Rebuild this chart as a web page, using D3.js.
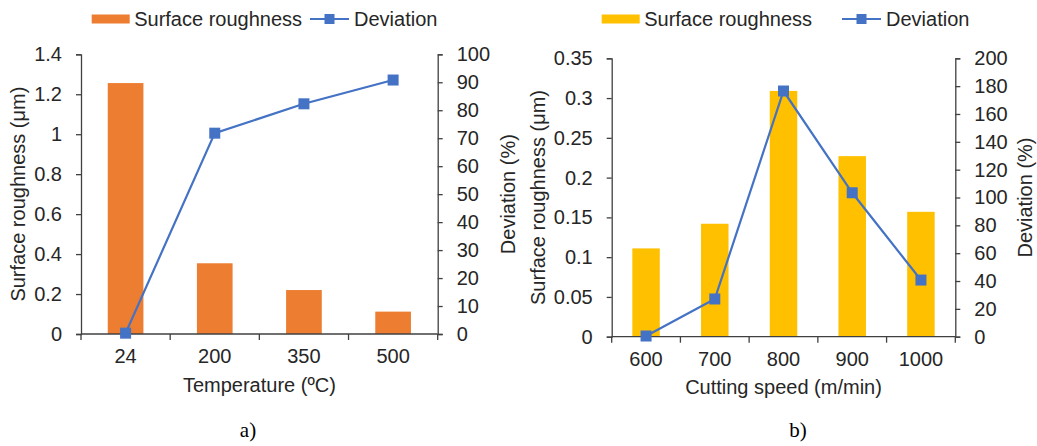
<!DOCTYPE html>
<html><head><meta charset="utf-8">
<script src="https://cdn.jsdelivr.net/npm/d3@7"></script>
<style>
html,body{margin:0;padding:0;background:#fff;}
svg{display:block;font-family:"Liberation Sans",Arial,sans-serif;}
</style></head>
<body>
<svg id="chart" width="1037" height="446"></svg>
<script>
// ---- Data ----
const tempCategories = ["24", "200", "350", "500"];
const tempRoughness = [1.256, 0.354, 0.22, 0.112];
const tempDeviation = [0.3, 71.8, 82.3, 90.8];
const tempLeftTicks = [0, 0.2, 0.4, 0.6, 0.8, 1, 1.2, 1.4];
const tempRightTicks = [0, 10, 20, 30, 40, 50, 60, 70, 80, 90, 100];

const speedCategories = ["600", "700", "800", "900", "1000"];
const speedRoughness = [0.111, 0.142, 0.309, 0.227, 0.157];
const speedDeviation = [0.5, 27.1, 176.5, 103.4, 40.7];
const speedLeftTicks = [0, 0.05, 0.1, 0.15, 0.2, 0.25, 0.3, 0.35];
const speedRightTicks = [0, 20, 40, 60, 80, 100, 120, 140, 160, 180, 200];

const svg = d3.select("#chart");
const textColor = "#262626";
const axisColor = "#404040";
const lineColor = "#4472C4";

function panel(o) {
  const g = svg.append("g");
  const x = d3.scaleBand().domain(o.cats).range([o.x0, o.x1]).paddingInner(0.6).paddingOuter(0.3);
  const xAxisBand = d3.scaleBand().domain(o.cats).range([o.x0, o.x1]);
  const yL = d3.scaleLinear().domain([0, o.leftMax]).range([o.y0, o.y1]);
  const yR = d3.scaleLinear().domain([0, o.rightMax]).range([o.y0, o.y1]);

  // bars
  g.selectAll("rect.bar").data(o.bars).join("rect")
    .attr("x", (d, i) => xAxisBand(o.cats[i]) + xAxisBand.bandwidth() * 0.3)
    .attr("width", xAxisBand.bandwidth() * 0.4)
    .attr("y", d => yL(d))
    .attr("height", d => yL(0) - yL(d))
    .attr("fill", o.barColor);

  // axes
  const axL = d3.axisLeft(yL).tickValues(o.leftTicks).tickSize(5).tickPadding(14)
    .tickFormat(d => String(+d.toFixed(2)));
  const gl = g.append("g").attr("transform", `translate(${o.x0},0)`).call(axL);
  const axR = d3.axisRight(yR).tickValues(o.rightTicks).tickSize(5).tickPadding(14);
  const gr = g.append("g").attr("transform", `translate(${o.x1},0)`).call(axR);
  const axB = d3.axisBottom(xAxisBand).tickSize(0).tickPadding(15);
  const gb = g.append("g").attr("transform", `translate(0,${o.y0})`).call(axB);
  // bottom tick marks at band boundaries
  const bounds = o.cats.map(c => xAxisBand(c)).concat([o.x1]);
  g.selectAll("line.xt").data(bounds).join("line")
    .attr("x1", d => d).attr("x2", d => d)
    .attr("y1", o.y0).attr("y2", o.y0 + 6)
    .attr("stroke", axisColor).attr("stroke-width", 1.3);

  [gl, gr, gb].forEach(a => {
    a.selectAll("path.domain").attr("stroke", axisColor).attr("stroke-width", 1.3);
    a.selectAll(".tick line").attr("stroke", axisColor).attr("stroke-width", 1.3);
    a.selectAll("text").attr("font-size", 20).attr("fill", textColor)
      .attr("font-family", '"Liberation Sans",Arial,sans-serif');
  });
  gb.select("path.domain").attr("d", `M${o.x0},0H${o.x1}`);

  // line
  const line = d3.line().x((d, i) => xAxisBand(o.cats[i]) + xAxisBand.bandwidth() / 2).y(d => yR(d));
  g.append("path").datum(o.dev).attr("d", line)
    .attr("fill", "none").attr("stroke", lineColor).attr("stroke-width", 2.2);
  g.selectAll("rect.mk").data(o.dev).join("rect")
    .attr("x", (d, i) => xAxisBand(o.cats[i]) + xAxisBand.bandwidth() / 2 - 5.5)
    .attr("y", d => yR(d) - 5.5)
    .attr("width", 11).attr("height", 11).attr("fill", lineColor);

  // axis titles
  const midY = (o.y0 + o.y1) / 2;
  g.append("text").attr("transform", `translate(${o.leftTitleX},${midY}) rotate(-90)`)
    .attr("text-anchor", "middle").attr("font-size", 20).attr("fill", textColor)
    .text("Surface roughness (μm)");
  g.append("text").attr("transform", `translate(${o.rightTitleX},${midY}) rotate(-90)`)
    .attr("text-anchor", "middle").attr("font-size", 20).attr("fill", textColor)
    .text("Deviation (%)");
  g.append("text").attr("x", (o.x0 + o.x1) / 2).attr("y", o.xTitleY)
    .attr("text-anchor", "middle").attr("font-size", 20).attr("fill", textColor)
    .text(o.xTitle);
  g.append("text").attr("x", o.capX).attr("y", 437)
    .attr("text-anchor", "middle").attr("font-size", 21).attr("fill", "#000")
    .attr("font-family", '"Liberation Serif","Times New Roman",serif')
    .text(o.caption);

  // legend
  const lg = g.append("g");
  lg.append("rect").attr("x", o.legX).attr("y", 14.5).attr("width", 38).attr("height", 9).attr("fill", o.barColor);
  lg.append("text").attr("x", o.legX + 42.5).attr("y", 26).attr("font-size", 20).attr("fill", textColor)
    .text("Surface roughness");
  lg.append("line").attr("x1", o.legLineX).attr("x2", o.legLineX + 39).attr("y1", 19).attr("y2", 19)
    .attr("stroke", lineColor).attr("stroke-width", 2.2);
  lg.append("rect").attr("x", o.legLineX + 19.5 - 5).attr("y", 14).attr("width", 10).attr("height", 10).attr("fill", lineColor);
  lg.append("text").attr("x", o.legLineX + 44).attr("y", 26).attr("font-size", 20).attr("fill", textColor)
    .text("Deviation");
}

panel({
  cats: tempCategories, bars: tempRoughness, dev: tempDeviation,
  leftTicks: tempLeftTicks, rightTicks: tempRightTicks, leftMax: 1.4, rightMax: 100,
  x0: 81, x1: 437.7, y0: 334, y1: 54.3, barColor: "#ED7D31",
  leftTitleX: 25, rightTitleX: 515, xTitleY: 392, xTitle: "Temperature (ºC)",
  capX: 248, caption: "a)", legX: 91.7, legLineX: 310
});
panel({
  cats: speedCategories, bars: speedRoughness, dev: speedDeviation,
  leftTicks: speedLeftTicks, rightTicks: speedRightTicks, leftMax: 0.35, rightMax: 200,
  x0: 611.7, x1: 955.3, y0: 336.7, y1: 58.3, barColor: "#FFC000",
  leftTitleX: 545, rightTitleX: 1032, xTitleY: 394, xTitle: "Cutting speed (m/min)",
  capX: 798, caption: "b)", legX: 601.7, legLineX: 842
});
</script>
</body></html>
